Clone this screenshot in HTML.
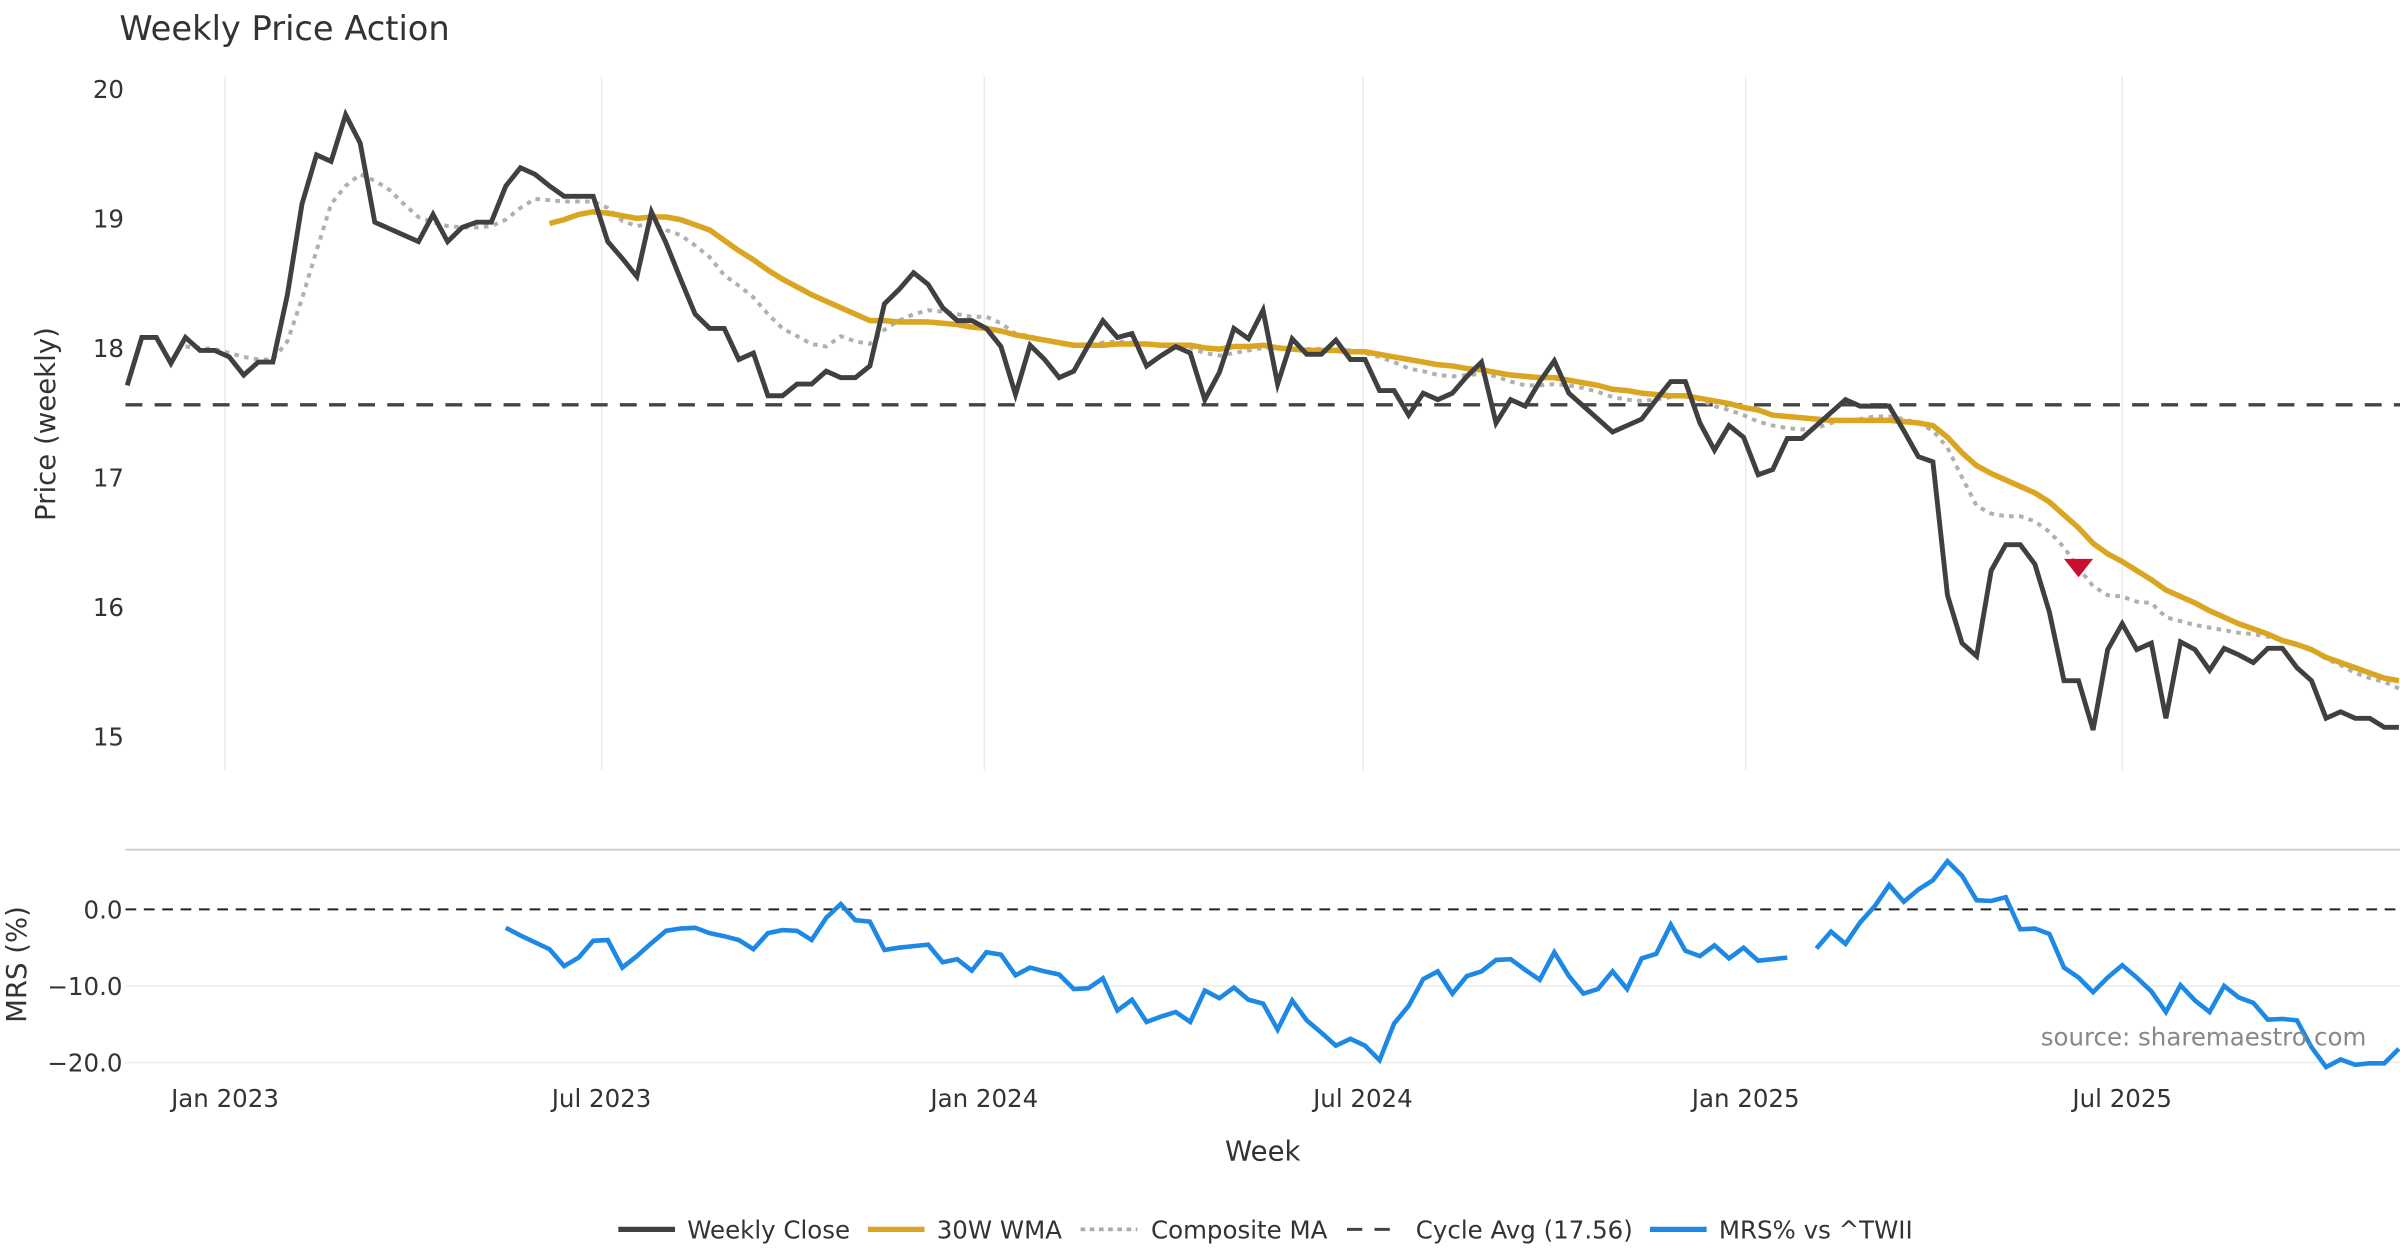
<!DOCTYPE html>
<html><head><meta charset="utf-8"><style>
html,body{margin:0;padding:0;background:#fff;}
svg{display:block;font-family:"DejaVu Sans","Liberation Sans",sans-serif;}
</style></head><body>
<svg id="chart" width="2400" height="1260" viewBox="0 0 1568 823" preserveAspectRatio="none" xmlns="http://www.w3.org/2000/svg">
<text x="78" y="26" font-size="22" fill="#333">Weekly Price Action</text>
<g id="grid"></g>
<g id="top"></g>
<line x1="82" y1="555" x2="1568" y2="555" stroke="#ccc" stroke-width="1.2"/>
<g id="bottom"></g>
<g id="axes"></g>
<text x="825" y="758" font-size="18" fill="#333" text-anchor="middle">Week</text>
<text transform="translate(36,277) rotate(-90)" font-size="18" fill="#333" text-anchor="middle">Price (weekly)</text>
<text transform="translate(17,630) rotate(-90)" font-size="18" fill="#333" text-anchor="middle">MRS (%)</text>
<text x="1546" y="683" font-size="16" fill="#888" text-anchor="end">source: sharemaestro.com</text>
<g font-size="16" fill="#333">
<g><line x1="404" y1="803" x2="441" y2="803" stroke="#404040" stroke-width="3.5"/><text x="449" y="809">Weekly Close</text></g>
<g><line x1="567" y1="803" x2="604" y2="803" stroke="#DAA520" stroke-width="3.5"/><text x="612" y="809">30W WMA</text></g>
<g><line x1="706" y1="803" x2="743" y2="803" stroke="#aaa" stroke-width="2.5" stroke-dasharray="3,3"/><text x="752" y="809">Composite MA</text></g>
<g><line x1="880" y1="803" x2="916" y2="803" stroke="#444" stroke-width="2" stroke-dasharray="10,8"/><text x="925" y="809">Cycle Avg (17.56)</text></g>
<g><line x1="1078" y1="803" x2="1115" y2="803" stroke="#1E88E5" stroke-width="3.5"/><text x="1123" y="809">MRS% vs ^TWII</text></g>
</g>
</svg>
<script>
const closeVals=[17.71,18.08,18.08,17.88,18.08,17.98,17.98,17.93,17.79,17.89,17.89,18.41,19.11,19.49,19.44,19.80,19.58,18.97,18.92,18.87,18.82,19.03,18.82,18.93,18.97,18.97,19.25,19.39,19.34,19.25,19.17,19.17,19.17,18.82,18.69,18.55,19.05,18.81,18.53,18.26,
18.15,18.15,17.91,17.96,17.63,17.63,17.72,17.72,17.82,17.77,17.77,17.86,18.34,18.45,18.58,18.49,18.31,18.21,18.21,18.15,18.01,17.64,18.02,17.91,17.77,17.82,18.02,18.21,18.08,18.11,17.86,17.94,18.01,17.96,17.60,17.81,18.15,18.07,18.29,17.72,
18.07,17.95,17.95,18.06,17.91,17.91,17.67,17.67,17.48,17.65,17.60,17.65,17.78,17.89,17.42,17.60,17.55,17.74,17.90,17.65,17.55,17.45,17.35,17.40,17.45,17.60,17.74,17.74,17.42,17.21,17.40,17.31,17.02,17.06,17.30,17.30,17.40,17.50,17.60,17.55,
17.55,17.55,17.36,17.16,17.12,16.09,15.72,15.62,16.28,16.48,16.48,16.33,15.96,15.43,15.43,15.05,15.67,15.87,15.67,15.72,15.14,15.73,15.67,15.51,15.68,15.63,15.57,15.68,15.68,15.53,15.43,15.14,15.19,15.14,15.14,15.07,15.07];
const wmaVals=[null,null,null,null,null,null,null,null,null,null,null,null,null,null,null,null,null,null,null,null,null,null,null,null,null,null,null,null,null,
18.96,18.99,19.03,19.05,19.04,19.02,19.00,19.01,19.01,18.99,18.95,18.91,18.83,18.75,18.68,18.60,18.53,18.47,18.41,18.36,18.31,18.26,18.21,18.21,18.20,18.20,18.20,18.19,18.18,18.16,18.15,18.13,18.10,18.08,18.06,18.04,18.02,18.02,18.02,18.03,18.03,18.03,18.02,18.02,18.02,18.00,17.99,18.01,18.01,18.02,18.00,
17.99,17.98,17.98,17.98,17.97,17.97,17.95,17.93,17.91,17.89,17.87,17.86,17.84,17.83,17.81,17.79,17.78,17.77,17.77,17.75,17.73,17.71,17.68,17.67,17.65,17.64,17.63,17.63,17.61,17.59,17.57,17.54,17.52,17.48,17.47,17.46,17.45,17.44,17.44,17.44,
17.44,17.44,17.43,17.42,17.40,17.31,17.19,17.09,17.03,16.98,16.93,16.88,16.81,16.71,16.61,16.49,16.41,16.35,16.28,16.21,16.13,16.08,16.03,15.97,15.92,15.87,15.83,15.79,15.74,15.71,15.67,15.61,15.57,15.53,15.49,15.45,15.43];
const compVals=[null,null,null,null,18.01,18.00,17.99,17.96,17.93,17.91,17.91,18.05,18.38,18.75,19.11,19.25,19.34,19.29,19.22,19.11,19.01,18.97,18.94,18.93,18.93,18.94,18.99,19.08,19.15,19.14,19.13,19.13,19.13,19.08,18.98,18.94,18.96,18.91,18.87,18.79,
18.70,18.56,18.48,18.39,18.26,18.15,18.09,18.03,18.01,18.09,18.05,18.03,18.14,18.21,18.26,18.29,18.28,18.26,18.24,18.24,18.19,18.11,18.09,18.06,18.03,18.02,18.02,18.04,18.05,18.04,18.03,18.02,18.02,18.00,17.96,17.94,17.96,17.98,18.00,18.00,
18.00,17.99,17.99,17.99,17.98,17.96,17.93,17.89,17.84,17.82,17.79,17.78,17.79,17.80,17.78,17.74,17.71,17.71,17.72,17.71,17.69,17.66,17.62,17.60,17.59,17.60,17.62,17.63,17.60,17.55,17.52,17.48,17.43,17.40,17.38,17.37,17.38,17.42,17.44,17.45,
17.47,17.47,17.45,17.42,17.36,17.23,17.00,16.78,16.72,16.70,16.70,16.66,16.58,16.46,16.30,16.16,16.09,16.08,16.04,16.03,15.92,15.89,15.86,15.84,15.82,15.80,15.79,15.77,15.74,15.71,15.67,15.60,15.55,15.49,15.45,15.42,15.37];
const mrsVals=[null,null,null,null,null,null,null,null,null,null,null,null,null,null,null,null,null,null,null,null,null,null,null,null,null,null,
-2.4,-3.4,-4.3,-5.2,-7.4,-6.3,-4.1,-4.0,-7.6,-6.1,-4.4,-2.8,-2.5,-2.4,-3.1,-3.5,-4.0,-5.2,-3.1,-2.7,-2.8,-4.0,-1.1,0.7,-1.4,-1.6,-5.3,-5.0,-4.8,-4.6,-6.9,-6.5,-8.0,-5.6,-5.9,-8.6,-7.6,-8.1,-8.5,-10.4,-10.3,-9.0,-13.2,-11.8,-14.7,-14.0,-13.4,-14.7,-10.6,-11.6,-10.2,-11.8,-12.3,-15.7,
-11.9,-14.5,-16.1,-17.8,-16.9,-17.8,-19.7,-14.9,-12.6,-9.1,-8.1,-11.0,-8.7,-8.1,-6.6,-6.5,-7.9,-9.2,-5.6,-8.7,-11.0,-10.4,-8.1,-10.4,-6.4,-5.8,-2.0,-5.4,-6.1,-4.7,-6.4,-5.0,-6.7,-6.5,-6.3,null,-5.1,-2.9,-4.5,-1.7,
0.4,3.2,1.0,2.6,3.8,6.3,4.4,1.2,1.1,1.6,-2.6,-2.5,-3.2,-7.6,-8.9,-10.8,-8.9,-7.3,-8.9,-10.7,-13.4,-9.9,-11.9,-13.4,-10.0,-11.5,-12.2,-14.4,-14.3,-14.5,-18.0,-20.6,-19.6,-20.3,-20.1,-20.1,-18.2];
const signalWeek=[134];
const signalPrice=[16.30];
const cycleAvg=17.56;
const priceTicks=[15,16,17,18,19,20];
const mrsTicks=[0,-10,-20];
const mrsTickLabels=["0.0","\u221210.0","\u221220.0"];
const xTickLabels=["Jan 2023","Jul 2023","Jan 2024","Jul 2024","Jan 2025","Jul 2025"];
const xTickDates=["2023-01-01","2023-07-01","2024-01-01","2024-07-01","2025-01-01","2025-07-01"];
const firstWeek="2022-11-15";

const NS="http://www.w3.org/2000/svg";
const DAY=86400000;
const ref=Date.UTC(2023,0,1);
function xDate(d){return 147+(d-ref)/DAY*(246/181);}
const t0=Date.parse(firstWeek+"T00:00:00Z");
function xWeek(i){return xDate(t0+i*7*DAY);}
function yP(v){return 58+(20-v)*84.6;}
function yM(v){return 594-v*5.0;}
function mk(tag,attrs,parent){const e=document.createElementNS(NS,tag);for(const k in attrs)e.setAttribute(k,attrs[k]);parent.appendChild(e);return e;}
function pathOf(vals,yf){let d="",pen=false;vals.forEach((v,i)=>{if(v===null){pen=false;return;}d+=(pen?"L":"M")+xWeek(i).toFixed(2)+","+yf(v).toFixed(2);pen=true;});return d;}

const grid=document.getElementById('grid'),top_=document.getElementById('top'),bot=document.getElementById('bottom'),axes=document.getElementById('axes');
xTickDates.forEach((s,k)=>{
  const x=xDate(Date.parse(s+"T00:00:00Z"));
  const g=mk('line',{x1:x,x2:x,y1:50,y2:503,stroke:'#ebebeb','stroke-width':1},grid);
  
  
  const t=mk('text',{x:x,y:723,'font-size':16,fill:'#333','text-anchor':'middle'},axes);
  t.textContent=xTickLabels[k];
  
  
});
priceTicks.forEach(v=>{
  const t=mk('text',{x:81,y:yP(v)+6,'font-size':16,fill:'#333','text-anchor':'end'},axes);
  t.textContent=String(v);
  
  
});
mrsTicks.forEach((v,k)=>{
  if(v!==0){const g=mk('line',{x1:82,x2:1568,y1:yM(v),y2:yM(v),stroke:'#ebebeb','stroke-width':1},grid);
  
  }
  const t=mk('text',{x:80,y:yM(v)+6,'font-size':16,fill:'#333','text-anchor':'end'},axes);
  t.textContent=mrsTickLabels[k];
  
  
});
let e;
e=mk('line',{x1:82,x2:1568,y1:yP(cycleAvg),y2:yP(cycleAvg),stroke:'#444','stroke-width':2.2,'stroke-dasharray':'11,8'},top_);


e=mk('path',{d:pathOf(compVals,yP),fill:'none',stroke:'#b0b0b0','stroke-width':2.6,'stroke-dasharray':'3,3.5'},top_);


e=mk('path',{d:pathOf(wmaVals,yP),fill:'none',stroke:'#DAA520','stroke-width':3.6,'stroke-linejoin':'round'},top_);


e=mk('path',{d:pathOf(closeVals,yP),fill:'none',stroke:'#404040','stroke-width':3.2,'stroke-linejoin':'miter'},top_);


signalWeek.forEach((w,k)=>{
  const x=xWeek(w),y=yP(signalPrice[k]);
  const tri=mk('polygon',{points:`${x-9.5},${y-6} ${x+9.5},${y-6} ${x},${y+6}`,fill:'#C8102E'},top_);
  
  
});
e=mk('line',{x1:82,x2:1568,y1:yM(0),y2:yM(0),stroke:'#222','stroke-width':1.3,'stroke-dasharray':'7,5'},bot);


e=mk('path',{d:pathOf(mrsVals,yM),fill:'none',stroke:'#1E88E5','stroke-width':3,'stroke-linejoin':'miter'},bot);


</script>
</body></html>
